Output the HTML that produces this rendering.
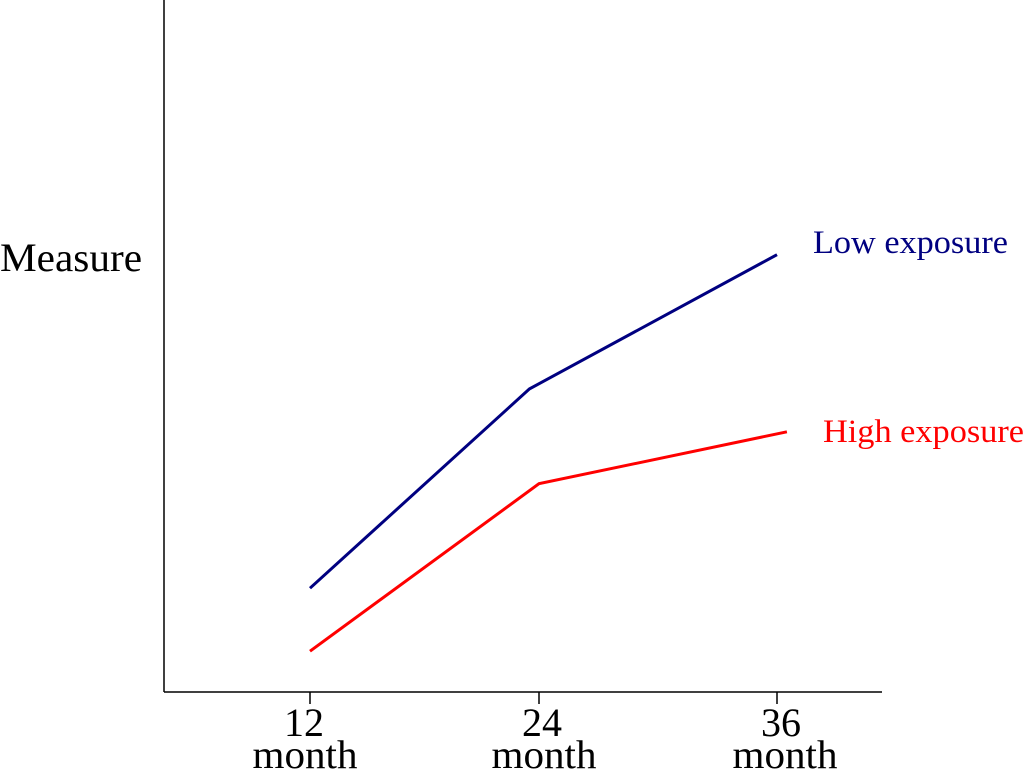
<!DOCTYPE html>
<html><head><meta charset="utf-8"><style>
html,body{margin:0;padding:0;background:#fff;}
svg{display:block;font-family:"Liberation Serif",serif;}
</style></head><body>
<svg id="chart" width="1024" height="770" viewBox="0 0 1024 770">
<line x1="164" y1="0" x2="164" y2="692" stroke="#000" stroke-width="1.5"/>
<line x1="164" y1="692" x2="882" y2="692" stroke="#000" stroke-width="1.5"/>
<text x="0" y="271" font-size="40" textLength="142" lengthAdjust="spacingAndGlyphs" fill="#000">Measure</text>
<g id="ticks"></g>
<g id="series"></g>
</svg>
<script>
const tickMonths = [12, 24, 36];
const tickLabels = ["12", "24", "36"];
const lowX = [12, 23.5, 36];
const lowY = [15.0, 43.8, 63.2];
const highX = [12, 24, 36.5];
const highY = [5.9, 30.1, 37.6];
const seriesNames = ["Low exposure", "High exposure"];

const tickPx = [310, 539, 777];
const labelShift = [-5, 5, 8];
const numShift = [-6, 3, 4];
function xScale(m){
  let i = m <= 24 ? 0 : 1;
  return tickPx[i] + (m - tickMonths[i]) * (tickPx[i+1] - tickPx[i]) / (tickMonths[i+1] - tickMonths[i]);
}
function yScale(v){ return 692 - v * 6.92; }
const NS = "http://www.w3.org/2000/svg";
const tg = document.getElementById('ticks');
tickMonths.forEach((m, i) => {
  const x = xScale(m);
  const l = document.createElementNS(NS, 'line');
  l.setAttribute('x1', x); l.setAttribute('x2', x);
  l.setAttribute('y1', 692); l.setAttribute('y2', 704);
  l.setAttribute('stroke', '#000'); l.setAttribute('stroke-width', '1.5');
  
  
  tg.appendChild(l);
  const t = document.createElementNS(NS, 'text');
  t.setAttribute('x', x + numShift[i]); t.setAttribute('y', 736);
  t.setAttribute('text-anchor', 'middle'); t.setAttribute('font-size', '40');
  t.setAttribute('textLength', '40'); t.setAttribute('lengthAdjust', 'spacingAndGlyphs');
  t.textContent = tickLabels[i];
  
  
  tg.appendChild(t);
  const t2 = document.createElementNS(NS, 'text');
  t2.setAttribute('x', x + labelShift[i]); t2.setAttribute('y', 768);
  t2.setAttribute('text-anchor', 'middle'); t2.setAttribute('font-size', '40');
  t2.setAttribute('textLength', '105'); t2.setAttribute('lengthAdjust', 'spacingAndGlyphs');
  t2.textContent = 'month';
  
  
  tg.appendChild(t2);
});
const sg = document.getElementById('series');
function drawSeries(xs, ys, color, name, lx, ly, len){
  const p = document.createElementNS(NS, 'polyline');
  p.setAttribute('points', xs.map((m, i) => xScale(m) + ',' + yScale(ys[i])).join(' '));
  p.setAttribute('fill', 'none'); p.setAttribute('stroke', color); p.setAttribute('stroke-width', '3');
  
  
  sg.appendChild(p);
  const t = document.createElementNS(NS, 'text');
  t.setAttribute('x', lx); t.setAttribute('y', ly);
  t.setAttribute('font-size', '33'); t.setAttribute('fill', color);
  t.setAttribute('textLength', len); t.setAttribute('lengthAdjust', 'spacingAndGlyphs');
  t.textContent = name;
  
  
  sg.appendChild(t);
}
drawSeries(lowX, lowY, '#000080', seriesNames[0], 813, 253, 195);
drawSeries(highX, highY, '#ff0000', seriesNames[1], 823, 442, 201);
</script>
</body></html>
